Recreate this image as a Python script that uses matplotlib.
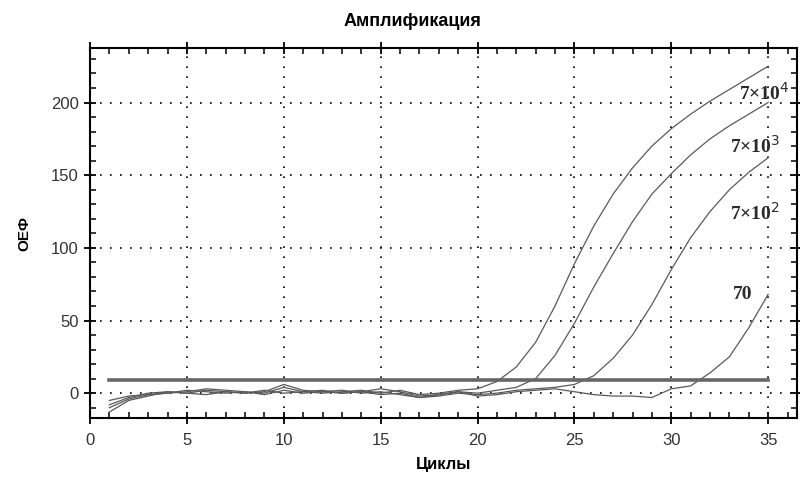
import numpy as np
import matplotlib
matplotlib.use("Agg")
import matplotlib.pyplot as plt
from matplotlib.ticker import MultipleLocator

plt.rcParams['font.family'] = ['Liberation Sans', 'DejaVu Sans']

# Данные кривых амплификации (циклы 1..35)
cycles = list(range(1, 36))
curve_7e4 = [-5, -2, -1, 0, 2, 1, 0, 1, 0, 4, 1, 0, 1, 2, 0, 2, -1, 0, 2, 3,
             8, 18, 35, 60, 89, 115, 137, 155, 170, 182, 192, 201, 209, 217, 225]
curve_7e3 = [-8, -3, 0, 1, 0, 2, 1, 0, 2, 0, 1, 2, 0, 1, 3, 1, -2, -1, 1, 0,
             2, 4, 10, 26, 48, 73, 96, 118, 137, 151, 164, 175, 184, 192, 200]
curve_7e2 = [-10, -4, -1, 0, 1, 3, 2, 1, -1, 2, 0, 1, 2, 0, 1, -1, -3, -2, 0, -1,
             0, 2, 3, 4, 6, 12, 24, 40, 61, 85, 107, 125, 140, 152, 162]
curve_70 = [-13, -5, -2, 1, 0, -1, 1, 0, 1, 6, 2, 1, 0, 1, -1, 0, -3, -1, 1, -2,
            -1, 1, 2, 3, 1, -1, -2, -2, -3, 3, 5, 14, 25, 45, 68]
threshold = 9

labels = ["7×10$^4$", "7×10$^3$", "7×10$^2$", "70"]
label_x = [34.8, 34.3, 34.3, 33.7]
label_y = [207, 170, 124, 68]

fig = plt.figure(figsize=(8, 4.79), dpi=100)
ax = fig.add_axes([0.1125, 0.127, 0.884, 0.773])

for c in [curve_7e4, curve_7e3, curve_7e2, curve_70]:
    ax.plot(cycles, c, color="#5a5a5a", lw=0.9)
ax.plot([1, 35], [threshold, threshold], color="#666666", lw=2.6)

for lab, x, y in zip(labels, label_x, label_y):
    ax.text(x, y, lab, fontsize=14, fontweight="bold", ha="center", va="center",
            family="Liberation Serif", color="#2a2a2a")

ax.set_xlim(0, 36.5)
ax.set_ylim(-17.2, 237.6)
ax.xaxis.set_major_locator(MultipleLocator(5))
ax.xaxis.set_minor_locator(MultipleLocator(1))
ax.yaxis.set_major_locator(MultipleLocator(50))
ax.yaxis.set_minor_locator(MultipleLocator(10))
ax.tick_params(which="major", direction="inout", length=9, width=1.3,
               top=True, right=True, labelsize=12, labelcolor="#333333")
ax.tick_params(axis="x", which="major", pad=6)
ax.tick_params(which="minor", direction="in", length=4, width=1.1, top=True, right=True)
for s in ax.spines.values():
    s.set_linewidth(1.5)
ax.grid(True, which="major", color="black", linestyle=(0, (1, 5)), lw=1.2)

fig.text(0.515, 0.955, "Амплификация", ha="center", va="center",
         fontsize=13, fontweight="bold", family=["Liberation Sans Narrow", "Liberation Sans"])
ax.set_xlabel("Циклы", fontsize=12, fontweight="bold", labelpad=7)
ax.set_ylabel("ОЕФ", fontsize=11, fontweight="bold", labelpad=14)

fig.savefig("out.png", dpi=100)
